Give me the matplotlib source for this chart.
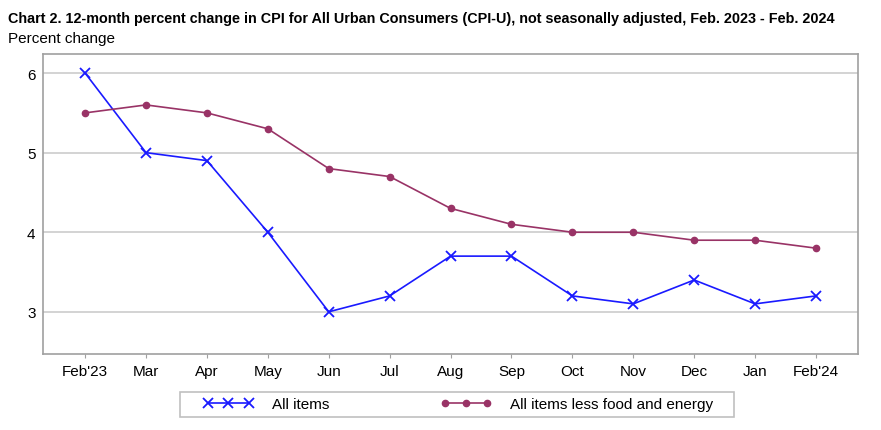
import numpy as np
import matplotlib.pyplot as plt
from matplotlib.patches import Rectangle

plt.rcParams['font.family'] = ['Liberation Sans', 'DejaVu Sans']

months = ["Feb'23", "Mar", "Apr", "May", "Jun", "Jul", "Aug", "Sep",
          "Oct", "Nov", "Dec", "Jan", "Feb'24"]
all_items = [6.0, 5.0, 4.9, 4.0, 3.0, 3.2, 3.7, 3.7, 3.2, 3.1, 3.4, 3.1, 3.2]
core = [5.5, 5.6, 5.5, 5.3, 4.8, 4.7, 4.3, 4.1, 4.0, 4.0, 3.9, 3.9, 3.8]

x = np.arange(len(months))

W, H = 881, 431
fig = plt.figure(figsize=(W / 100, H / 100), dpi=100)
ax = fig.add_axes([42.5 / W, 1 - 355 / H, (858 - 42.5) / W, (355 - 55) / H])

ax.plot(x, all_items, color='#1a1aff', lw=1.2, marker='x', ms=6.5, mew=1.3,
        label='All items')
ax.plot(x, core, color='#993366', lw=1.2, marker='o', ms=4.5,
        label='All items less food and energy')

ax.set_xlim(-0.7, 12.69)
ax.set_ylim(2.47, 6.24)
ax.set_xticks(x)
ax.set_xticklabels(months)
ax.set_yticks([3, 4, 5, 6])
ax.grid(axis='y', color='#cccccc', lw=1.2)
ax.set_axisbelow(True)
ax.tick_params(axis='y', length=0, pad=5, labelsize=11)
ax.tick_params(axis='x', length=3, color='#a0a0a0', pad=4, labelsize=11)
for s in ax.spines.values():
    s.set_color('#a0a0a0')
    s.set_linewidth(1.2)

fig.text(8 / W, 1 - 19 / H, 'Chart 2. 12-month percent change in CPI for All Urban Consumers (CPI-U), '
         'not seasonally adjusted, Feb. 2023 - Feb. 2024',
         fontsize=10.35, fontweight='bold', va='center')
fig.text(8 / W, 1 - 39 / H, 'Percent change', fontsize=11, va='center')

# legend box drawn separately so the padding can be wider than tall
fig.patches.append(Rectangle((180 / W, 1 - 418 / H), (734 - 180) / W, 25 / H,
                             transform=fig.transFigure, facecolor='white',
                             edgecolor='#c0c0c0', lw=1.2))
leg = fig.legend(loc='center', bbox_to_anchor=(458 / W, 1 - 405.5 / H),
                 ncol=2, numpoints=3, handlelength=3.3, columnspacing=7.3,
                 handletextpad=1.2, frameon=False, fontsize=11,
                 borderpad=0, borderaxespad=0)

fig.savefig('out.png', dpi=100)
